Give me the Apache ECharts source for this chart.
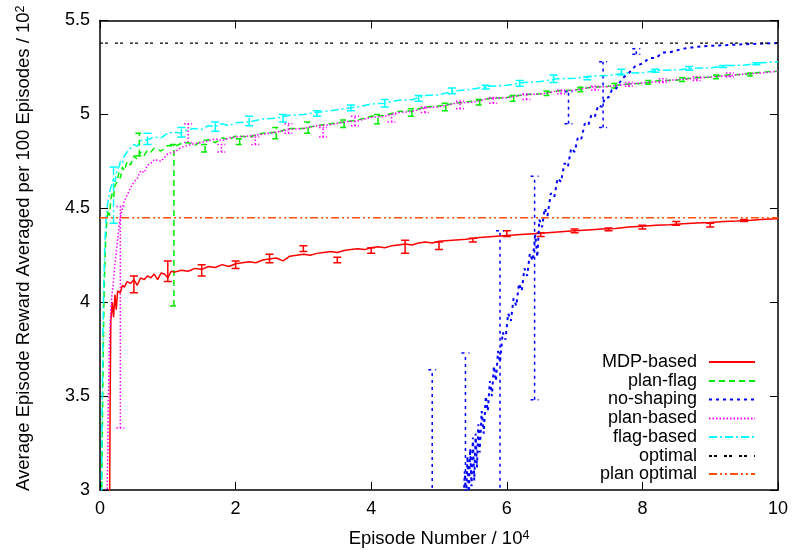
<!DOCTYPE html>
<html><head><meta charset="utf-8">
<script src="https://cdn.jsdelivr.net/npm/echarts@6/dist/echarts.min.js"></script>
<style>html,body{margin:0;padding:0;background:#fff}#c{width:795px;height:554px}</style>
</head><body><div id="c"></div>
<script>
// ---------- data (episode / 10^4, reward / 10^2) ----------
const xTicks = [0, 2, 4, 6, 8, 10];
const yTicks = [3, 3.5, 4, 4.5, 5, 5.5];
const seriesNames = ['MDP-based','plan-flag','no-shaping','plan-based','flag-based','optimal','plan optimal'];

const mdpEpisode = [0.14,0.15,0.16,0.18,0.20,0.22,0.24,0.26,0.28,0.30,0.33,0.36,0.40,0.45,0.50,0.55,0.60,0.65,0.70,0.75,0.80,0.85,0.90,0.95,1.00,1.05,1.10,1.20,1.30,1.40,1.50,1.60,1.70,1.80,1.90,2.00,2.10,2.20,2.30,2.40,2.50,2.60,2.70,2.80,2.90,3.00,3.10,3.20,3.30,3.40,3.50,3.60,3.70,3.80,3.90,4.00,4.10,4.20,4.30,4.40,4.50,4.60,4.70,4.80,4.90,5.00,5.20,5.40,5.60,5.80,6.00,6.20,6.40,6.60,6.80,7.00,7.20,7.40,7.60,7.80,8.00,8.20,8.40,8.60,8.80,9.00,9.20,9.40,9.60,9.80,10.00];
const mdpReward = [2.80,3.50,3.90,4.00,3.92,4.04,3.96,4.06,4.07,4.05,4.09,4.08,4.11,4.10,4.12,4.09,4.13,4.12,4.14,4.13,4.15,4.12,4.155,4.15,4.13,4.165,4.16,4.17,4.165,4.18,4.175,4.19,4.185,4.20,4.19,4.205,4.21,4.215,4.21,4.225,4.23,4.235,4.22,4.245,4.25,4.255,4.25,4.26,4.265,4.27,4.265,4.275,4.28,4.285,4.28,4.29,4.295,4.29,4.30,4.305,4.31,4.305,4.315,4.32,4.315,4.325,4.33,4.335,4.345,4.35,4.355,4.36,4.365,4.37,4.375,4.38,4.385,4.39,4.393,4.40,4.405,4.41,4.413,4.418,4.422,4.425,4.43,4.433,4.437,4.442,4.445];
const mdpErrEpisode = [0.5,1,1.5,2,2.5,3,3.5,4,4.5,5,5.5,6,6.5,7,7.5,8,8.5,9,9.5];
const mdpErrLow  = [4.05,4.11,4.14,4.18,4.21,4.27,4.21,4.26,4.26,4.28,4.32,4.35,4.35,4.37,4.38,4.39,4.41,4.40,4.43];
const mdpErrHigh = [4.14,4.22,4.20,4.22,4.255,4.30,4.24,4.29,4.33,4.32,4.34,4.38,4.37,4.39,4.395,4.41,4.43,4.42,4.44];

const flagPlanEpisode = [0.02,0.04,0.06,0.08,0.10,0.12,0.14,0.16,0.18,0.20,0.22,0.25,0.28,0.30,0.33,0.36,0.40,0.45,0.50,0.55,0.60,0.65,0.70,0.75,0.80,0.90,1.00,1.10,1.20,1.30,1.40,1.50,1.60,1.70,1.80,1.90,2.00,2.20,2.40,2.60,2.80,3.00,3.20,3.40,3.60,3.80,4.00,4.20,4.40,4.60,4.80,5.00,5.25,5.50,5.75,6.00,6.25,6.50,6.75,7.00,7.25,7.50,7.75,8.00,8.25,8.50,8.75,9.00,9.25,9.50,9.75,10.00];
const flagPlanReward = [2.80,3.50,4.05,4.30,4.44,4.49,4.46,4.55,4.58,4.56,4.62,4.64,4.69,4.66,4.72,4.70,4.75,4.73,4.78,4.76,4.80,4.78,4.81,4.80,4.82,4.805,4.835,4.83,4.845,4.85,4.835,4.86,4.865,4.85,4.875,4.865,4.885,4.88,4.90,4.905,4.925,4.925,4.94,4.95,4.96,4.97,4.99,4.995,5.015,5.02,5.04,5.045,5.06,5.07,5.085,5.09,5.105,5.11,5.125,5.13,5.145,5.15,5.16,5.165,5.18,5.182,5.195,5.198,5.21,5.213,5.225,5.23];
const flagPlanErrEpisode = [0.58,1.09,1.55,2.06,2.6,3.07,3.6,4.1,4.6,5.1,5.6,6.1,6.6,7.1,7.6,8.1,8.6,9.1,9.6];
const flagPlanErrLow  = [4.78,3.98,4.80,4.84,4.87,4.90,4.93,4.95,4.99,5.02,5.05,5.07,5.10,5.12,5.14,5.16,5.175,5.19,5.205];
const flagPlanErrHigh = [4.90,4.84,4.84,4.87,4.93,4.96,4.97,5.00,5.03,5.06,5.08,5.10,5.125,5.145,5.165,5.18,5.195,5.21,5.22];

const noShapeEpisode = [5.36,5.38,5.40,5.42,5.44,5.46,5.48,5.50,5.52,5.54,5.56,5.58,5.60,5.63,5.66,5.69,5.72,5.75,5.78,5.81,5.84,5.87,5.90,5.94,5.98,6.02,6.06,6.10,6.14,6.18,6.22,6.26,6.30,6.34,6.38,6.42,6.45,6.48,6.52,6.56,6.60,6.65,6.70,6.75,6.80,6.85,6.90,6.95,7.00,7.05,7.10,7.15,7.20,7.25,7.30,7.35,7.40,7.45,7.50,7.55,7.60,7.70,7.80,7.90,8.00,8.10,8.20,8.30,8.40,8.60,8.80,9.00,9.30,9.60,10.00];
const noShapeReward = [2.90,3.10,2.95,3.18,2.97,3.22,3.02,3.28,3.05,3.30,3.12,3.35,3.20,3.42,3.30,3.50,3.42,3.58,3.50,3.66,3.58,3.74,3.68,3.84,3.80,3.94,3.90,4.02,3.98,4.10,4.06,4.18,4.14,4.26,4.22,4.36,4.24,4.44,4.40,4.50,4.46,4.58,4.56,4.66,4.64,4.74,4.72,4.82,4.80,4.88,4.87,4.95,4.94,5.00,4.99,5.05,5.04,5.09,5.09,5.13,5.13,5.19,5.22,5.26,5.27,5.30,5.30,5.33,5.33,5.35,5.36,5.365,5.37,5.375,5.38];
const noShapeErrEpisode = [4.9,5.39,5.9,6.41,6.91,7.42,7.91];
const noShapeErrLow  = [2.6,2.5,2.9,3.48,4.95,4.93,5.32];
const noShapeErrHigh = [3.64,3.73,4.38,4.67,5.12,5.28,5.35];

const planEpisode = [0.10,0.12,0.14,0.16,0.18,0.20,0.22,0.25,0.28,0.30,0.33,0.36,0.40,0.45,0.50,0.55,0.60,0.65,0.70,0.75,0.80,0.90,1.00,1.10,1.20,1.30,1.40,1.50,1.60,1.70,1.80,1.90,2.00,2.20,2.40,2.60,2.80,3.00,3.20,3.40,3.60,3.80,4.00,4.20,4.40,4.60,4.80,5.00,5.25,5.50,5.75,6.00,6.25,6.50,6.75,7.00,7.25,7.50,7.75,8.00,8.25,8.50,8.75,9.00,9.25,9.50,9.75,10.00];
const planReward = [2.80,3.40,3.80,3.97,4.05,4.12,4.20,4.30,4.40,4.45,4.50,4.54,4.57,4.61,4.64,4.66,4.70,4.69,4.73,4.74,4.76,4.75,4.79,4.80,4.825,4.835,4.845,4.85,4.86,4.87,4.86,4.875,4.88,4.885,4.895,4.905,4.92,4.925,4.94,4.945,4.96,4.965,4.985,4.99,5.01,5.015,5.035,5.04,5.06,5.065,5.085,5.088,5.105,5.108,5.125,5.128,5.145,5.148,5.16,5.168,5.175,5.185,5.19,5.20,5.205,5.215,5.22,5.23];
const planErrEpisode = [0.3,1.3,1.79,2.29,2.78,3.29,3.76,4.3,4.79,5.31,5.8,6.29,6.8,7.3,7.8,8.3,8.8,9.29];
const planErrLow  = [3.33,4.85,4.80,4.84,4.90,4.88,4.94,4.96,5.01,5.03,5.06,5.08,5.11,5.13,5.15,5.17,5.18,5.20];
const planErrHigh = [4.51,4.95,4.84,4.88,4.95,4.93,4.99,5.00,5.04,5.07,5.09,5.11,5.13,5.15,5.17,5.19,5.20,5.22];

const flagEpisode = [0.02,0.03,0.05,0.07,0.09,0.11,0.13,0.15,0.18,0.20,0.22,0.25,0.28,0.30,0.33,0.36,0.40,0.45,0.50,0.55,0.60,0.70,0.80,0.90,1.00,1.10,1.20,1.30,1.40,1.50,1.60,1.70,1.80,1.90,2.00,2.20,2.40,2.60,2.80,3.00,3.20,3.40,3.60,3.80,4.00,4.20,4.40,4.60,4.80,5.00,5.25,5.50,5.75,6.00,6.25,6.50,6.75,7.00,7.25,7.50,7.75,8.00,8.25,8.50,8.75,9.00,9.25,9.50,9.75,10.00];
const flagReward = [2.80,3.40,4.00,4.30,4.45,4.52,4.56,4.60,4.63,4.66,4.64,4.70,4.72,4.75,4.74,4.78,4.80,4.82,4.84,4.83,4.86,4.865,4.88,4.875,4.90,4.905,4.90,4.92,4.925,4.92,4.94,4.935,4.95,4.94,4.955,4.96,4.975,4.98,4.995,5.0,5.01,5.02,5.03,5.04,5.055,5.06,5.075,5.078,5.10,5.105,5.125,5.135,5.15,5.155,5.17,5.175,5.19,5.192,5.205,5.207,5.22,5.222,5.235,5.237,5.245,5.248,5.26,5.262,5.275,5.28];
const flagErrEpisode = [0.2,0.7,1.2,1.7,2.2,2.7,3.2,3.7,4.2,4.7,5.19,5.69,6.19,6.69,7.19,7.69,8.19,8.69,9.19,9.68];
const flagErrLow  = [4.42,4.84,4.88,4.91,4.94,4.96,4.99,5.02,5.04,5.07,5.11,5.135,5.15,5.17,5.185,5.21,5.225,5.235,5.25,5.265];
const flagErrHigh = [4.72,4.90,4.93,4.96,4.99,5.00,5.02,5.05,5.08,5.10,5.14,5.155,5.18,5.21,5.20,5.24,5.24,5.255,5.26,5.275];

const referenceRange = [0, 10];
const optimalReward = 5.38;
const planOptimalReward = 4.45;

// ---------- helpers ----------
const zip = (xs, ys) => xs.map((x, i) => [x, ys[i]]);
const zip3 = (xs, a, b) => xs.map((x, i) => [x, a[i], b[i]]);

const colors = {
  'MDP-based': '#ff0000', 'plan-flag': '#00ee00', 'no-shaping': '#0000ff',
  'plan-based': '#ff00ff', 'flag-based': '#00ffff', 'optimal': '#000000', 'plan optimal': '#ff5010'
};
const dashes = {
  'MDP-based': 'solid', 'plan-flag': [6, 4], 'no-shaping': [3, 4],
  'plan-based': [1.5, 2], 'flag-based': [8, 3, 2, 3], 'optimal': [3, 2, 3, 7], 'plan optimal': [8, 3, 2, 3, 2, 3]
};
const widths = {
  'MDP-based': 1.5, 'plan-flag': 1.5, 'no-shaping': 2, 'plan-based': 1.5, 'flag-based': 1.5, 'optimal': 1.2, 'plan optimal': 1.4
};

function lineSeries(name, data) {
  return {
    name, type: 'line', data, showSymbol: false, symbol: 'none', clip: true,
    lineStyle: { color: colors[name], width: widths[name], type: dashes[name] },
    itemStyle: { color: colors[name] }, z: 3
  };
}
function errSeries(name, data) {
  const color = colors[name], dash = dashes[name] === 'solid' ? null : dashes[name];
  return {
    name: name + ' err', type: 'custom', data, clip: true, z: 3,
    encode: { x: 0, y: [1, 2] },
    renderItem(params, api) {
      const x = api.value(0), lo = api.value(1), hi = api.value(2);
      const p1 = api.coord([x, lo]), p2 = api.coord([x, hi]);
      const cap = 4;
      const st = { stroke: color, lineWidth: widths[name] > 1.5 ? 1.5 : widths[name], lineDash: dash };
      return { type: 'group', children: [
        { type: 'line', shape: { x1: p1[0], y1: p1[1], x2: p2[0], y2: p2[1] }, style: st },
        { type: 'line', shape: { x1: p1[0] - cap, y1: p1[1], x2: p1[0] + cap, y2: p1[1] }, style: st },
        { type: 'line', shape: { x1: p2[0] - cap, y1: p2[1], x2: p2[0] + cap, y2: p2[1] }, style: st }
      ]};
    }
  };
}

const font = '"Liberation Sans", Arial, Helvetica, sans-serif';
const legendRowCenters = [362, 381, 399.5, 418.5, 437, 456, 474];
const legends = seriesNames.map((n, i) => ({
  data: [n], orient: 'vertical', align: 'right', right: 39, top: legendRowCenters[i] - 9,
  padding: 0, itemWidth: 46, itemHeight: 14, selectedMode: false,
  itemStyle: { opacity: 0, color: 'rgba(0,0,0,0)', borderColor: 'rgba(0,0,0,0)', borderWidth: 0 },
  lineStyle: { opacity: 1 },
  textStyle: { fontFamily: font, fontSize: 18, color: '#000', lineHeight: 18, padding: [0, 7, 0, 0] }
}));

const axisCommon = {
  type: 'value', splitLine: { show: false },
  axisLine: { show: true, onZero: false, lineStyle: { color: '#000', width: 1.5 } },
  axisTick: { show: true, inside: true, length: 8, lineStyle: { color: '#000', width: 1 } }
};
const supRich = { sup: { fontFamily: font, fontSize: 12.5, color: '#000', verticalAlign: 'top', lineHeight: 20 } };

const option = {
  animation: false,
  backgroundColor: '#fff',
  textStyle: { fontFamily: font },
  grid: { left: 100, right: 17, top: 20.5, bottom: 64, containLabel: false },
  legend: legends,
  xAxis: [
    Object.assign({}, axisCommon, {
      min: xTicks[0], max: xTicks[xTicks.length - 1], interval: xTicks[1] - xTicks[0], position: 'bottom',
      axisLabel: { fontFamily: font, fontSize: 18, color: '#000', margin: 10 },
      name: 'Episode Number / 10{sup|4}', nameLocation: 'middle', nameGap: 39,
      nameTextStyle: { fontFamily: font, fontSize: 18.5, color: '#000', rich: supRich }
    }),
    Object.assign({}, axisCommon, {
      min: xTicks[0], max: xTicks[xTicks.length - 1], interval: xTicks[1] - xTicks[0], position: 'top',
      axisLabel: { show: false }
    })
  ],
  yAxis: [
    Object.assign({}, axisCommon, {
      min: yTicks[0], max: yTicks[yTicks.length - 1], interval: yTicks[1] - yTicks[0], position: 'left',
      axisLabel: { fontFamily: font, fontSize: 18, color: '#000', margin: 10 },
      name: 'Average Episode Reward Averaged per 100 Episodes / 10{sup|2}', nameLocation: 'middle', nameGap: 66,
      nameTextStyle: { fontFamily: font, fontSize: 18.5, color: '#000', rich: supRich, padding: [0, 0, 0, 14] }
    }),
    Object.assign({}, axisCommon, {
      min: yTicks[0], max: yTicks[yTicks.length - 1], interval: yTicks[1] - yTicks[0], position: 'right',
      axisLabel: { show: false }
    })
  ],
  series: [
    lineSeries('MDP-based', zip(mdpEpisode, mdpReward)),
    errSeries('MDP-based', zip3(mdpErrEpisode, mdpErrLow, mdpErrHigh)),
    lineSeries('plan-flag', zip(flagPlanEpisode, flagPlanReward)),
    errSeries('plan-flag', zip3(flagPlanErrEpisode, flagPlanErrLow, flagPlanErrHigh)),
    lineSeries('no-shaping', zip(noShapeEpisode, noShapeReward)),
    errSeries('no-shaping', zip3(noShapeErrEpisode, noShapeErrLow, noShapeErrHigh)),
    lineSeries('plan-based', zip(planEpisode, planReward)),
    errSeries('plan-based', zip3(planErrEpisode, planErrLow, planErrHigh)),
    lineSeries('flag-based', zip(flagEpisode, flagReward)),
    errSeries('flag-based', zip3(flagErrEpisode, flagErrLow, flagErrHigh)),
    lineSeries('optimal', referenceRange.map(x => [x, optimalReward])),
    lineSeries('plan optimal', referenceRange.map(x => [x, planOptimalReward]))
  ]
};

const chart = echarts.init(document.getElementById('c'), null, { renderer: 'canvas' });
chart.setOption(option);
</script>
</body></html>
